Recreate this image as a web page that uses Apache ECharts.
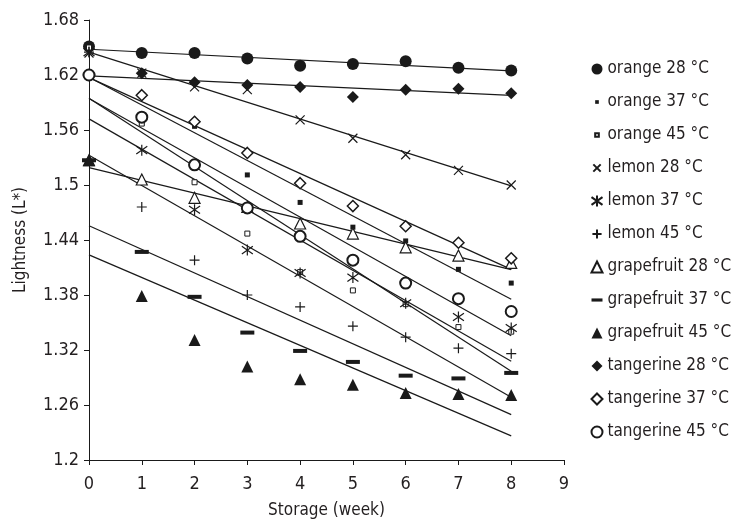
<!DOCTYPE html>
<html lang="en">
<head>
    <meta charset="UTF-8">
    <title>Lightness during storage</title>
    <script src="https://cdn.jsdelivr.net/npm/echarts@6/dist/echarts.min.js"></script>
    <style>
        html, body { margin: 0; padding: 0; background: #fff; }
        #chart { width: 747px; height: 526px; }
    </style>
</head>
<body>
<div id="chart"></div>
<script>
    // storage weeks
    var weeks = [0, 1, 2, 3, 4, 5, 6, 7, 8];

    // lightness values
    var orange28 = [1.651, 1.644, 1.644, 1.638, 1.630, 1.632, 1.635, 1.628, 1.625];
    var orange37 = [1.650, 1.568, 1.564, 1.511, 1.481, 1.454, 1.439, 1.408, 1.393];
    var orange45 = [1.650, 1.567, 1.503, 1.447, 1.405, 1.385, 1.370, 1.345, 1.340];
    var lemon28 = [1.644, 1.622, 1.607, 1.604, 1.571, 1.551, 1.533, 1.516, 1.500];
    var lemon37 = [1.645, 1.538, 1.473, 1.429, 1.404, 1.399, 1.371, 1.356, 1.344];
    var lemon45 = [1.645, 1.476, 1.418, 1.380, 1.367, 1.346, 1.334, 1.322, 1.316];
    var grapefruit28 = [1.527, 1.506, 1.486, 1.476, 1.458, 1.447, 1.432, 1.423, 1.415];
    var grapefruit37 = [1.527, 1.427, 1.378, 1.339, 1.319, 1.307, 1.292, 1.289, 1.295];
    var grapefruit45 = [1.527, 1.379, 1.331, 1.302, 1.288, 1.282, 1.273, 1.272, 1.271];
    var tangerine28 = [1.620, 1.622, 1.612, 1.609, 1.607, 1.596, 1.604, 1.605, 1.600];
    var tangerine37 = [1.620, 1.598, 1.569, 1.535, 1.502, 1.477, 1.455, 1.437, 1.420];
    var tangerine45 = [1.620, 1.574, 1.522, 1.475, 1.444, 1.418, 1.393, 1.376, 1.362];

    var names = ['orange 28 °C', 'orange 37 °C', 'orange 45 °C',
        'lemon 28 °C', 'lemon 37 °C', 'lemon 45 °C',
        'grapefruit 28 °C', 'grapefruit 37 °C', 'grapefruit 45 °C',
        'tangerine 28 °C', 'tangerine 37 °C', 'tangerine 45 °C'];
    var values = [orange28, orange37, orange45, lemon28, lemon37, lemon45,
        grapefruit28, grapefruit37, grapefruit45, tangerine28, tangerine37, tangerine45];

    var ink = '#1a1a1a';
    var txt = '#231f20';
    var font = "'DejaVu Sans Condensed', 'DejaVu Sans', sans-serif";

    var xPath = 'path://M0,0L10,10M10,0L0,10';
    var starPath = 'path://M0,1.5L10,8.5M10,1.5L0,8.5M5,0L5,10';
    var plusPath = 'path://M5,0L5,10M0,5L10,5';
    var dotIcon = 'path://M0,0M12,12M4,4L8,4L8,8L4,8Z';

    // marker look per series
    var marks = [
        {symbol: 'circle', size: 12, fill: ink, bw: 0},
        {symbol: 'rect', size: 5, fill: ink, bw: 0, icon: dotIcon},
        {symbol: 'rect', size: 5, fill: '#fff', bw: 1, icon: dotIcon},
        {symbol: xPath, size: 9, fill: 'none', bw: 1.2, icon: 'path://M-1,-1M11,11M1,1L9,9M9,1L1,9'},
        {symbol: starPath, size: 11, fill: 'none', bw: 1.2},
        {symbol: plusPath, size: 10, fill: 'none', bw: 1.2, icon: 'path://M-1,-1M11,11M5,0L5,10M0,5L10,5'},
        {symbol: 'triangle', size: 11, fill: '#fff', bw: 1.2},
        {symbol: 'rect', size: [14, 4], fill: ink, bw: 0, icon: 'path://M0,4L14,4L14,8L0,8Z'},
        {symbol: 'triangle', size: 12, fill: ink, bw: 0},
        {symbol: 'diamond', size: 12, fill: ink, bw: 0},
        {symbol: 'diamond', size: 11, fill: '#fff', bw: 1.5},
        {symbol: 'circle', size: 11, fill: '#fff', bw: 2}
    ];

    // least squares line through a series
    function fit(ys) {
        var n = weeks.length, mx = 0, my = 0, sxy = 0, sxx = 0;
        for (var i = 0; i < n; i++) { mx += weeks[i]; my += ys[i]; }
        mx /= n; my /= n;
        for (var j = 0; j < n; j++) {
            sxy += (weeks[j] - mx) * (ys[j] - my);
            sxx += (weeks[j] - mx) * (weeks[j] - mx);
        }
        var k = sxy / sxx, b = my - k * mx;
        var x0 = weeks[0], x1 = weeks[n - 1];
        return [[x0, b + k * x0], [x1, b + k * x1]];
    }

    var series = [];
    var legendData = [];
    for (var s = 0; s < names.length; s++) {
        series.push({
            name: 'fit ' + names[s],
            type: 'line',
            data: fit(values[s]),
            symbol: 'none',
            silent: true,
            z: 1,
            lineStyle: {color: ink, width: 1.2}
        });
    }
    for (var t = 0; t < names.length; t++) {
        var m = marks[t];
        series.push({
            name: names[t],
            type: 'scatter',
            data: weeks.map(function (w, i) { return [w, values[t][i]]; }),
            symbol: m.symbol,
            symbolSize: m.size,
            z: 3,
            itemStyle: {color: m.fill, borderColor: ink, borderWidth: m.bw, opacity: 1}
        });
        var item = {name: names[t]};
        if (m.icon) item.icon = m.icon;
        legendData.push(item);
    }

    var chart = echarts.init(document.getElementById('chart'));
    chart.setOption({
        animation: false,
        backgroundColor: '#fff',
        textStyle: {fontFamily: font},
        grid: {left: 89, right: 183, top: 20, bottom: 66},
        legend: {
            data: legendData,
            orient: 'vertical',
            left: 584,
            top: 54,
            itemWidth: 11,
            itemHeight: 11,
            itemGap: 13,
            selectedMode: false,
            textStyle: {fontFamily: font, fontSize: 17, color: txt, lineHeight: 20}
        },
        xAxis: {
            type: 'value',
            min: 0,
            max: 9,
            interval: 1,
            name: 'Storage (week)',
            nameLocation: 'middle',
            nameGap: 42,
            nameTextStyle: {fontFamily: font, fontSize: 17, color: txt},
            axisLine: {lineStyle: {color: ink, width: 1}},
            axisTick: {lineStyle: {color: ink}, length: 5},
            axisLabel: {fontFamily: font, fontSize: 18, color: txt, margin: 15},
            splitLine: {show: false}
        },
        yAxis: {
            type: 'value',
            min: 1.2,
            max: 1.68,
            interval: 0.06,
            name: 'Lightness (L*)',
            nameLocation: 'middle',
            nameGap: 60,
            nameTextStyle: {fontFamily: font, fontSize: 17, color: txt},
            axisLine: {show: true, lineStyle: {color: ink, width: 1}},
            axisTick: {show: true, lineStyle: {color: ink}, length: 5},
            axisLabel: {
                fontFamily: font, fontSize: 18, color: txt, margin: 10,
                formatter: function (v) { return String(+v.toFixed(2)); }
            },
            splitLine: {show: false}
        },
        series: series
    });
</script>
</body>
</html>
